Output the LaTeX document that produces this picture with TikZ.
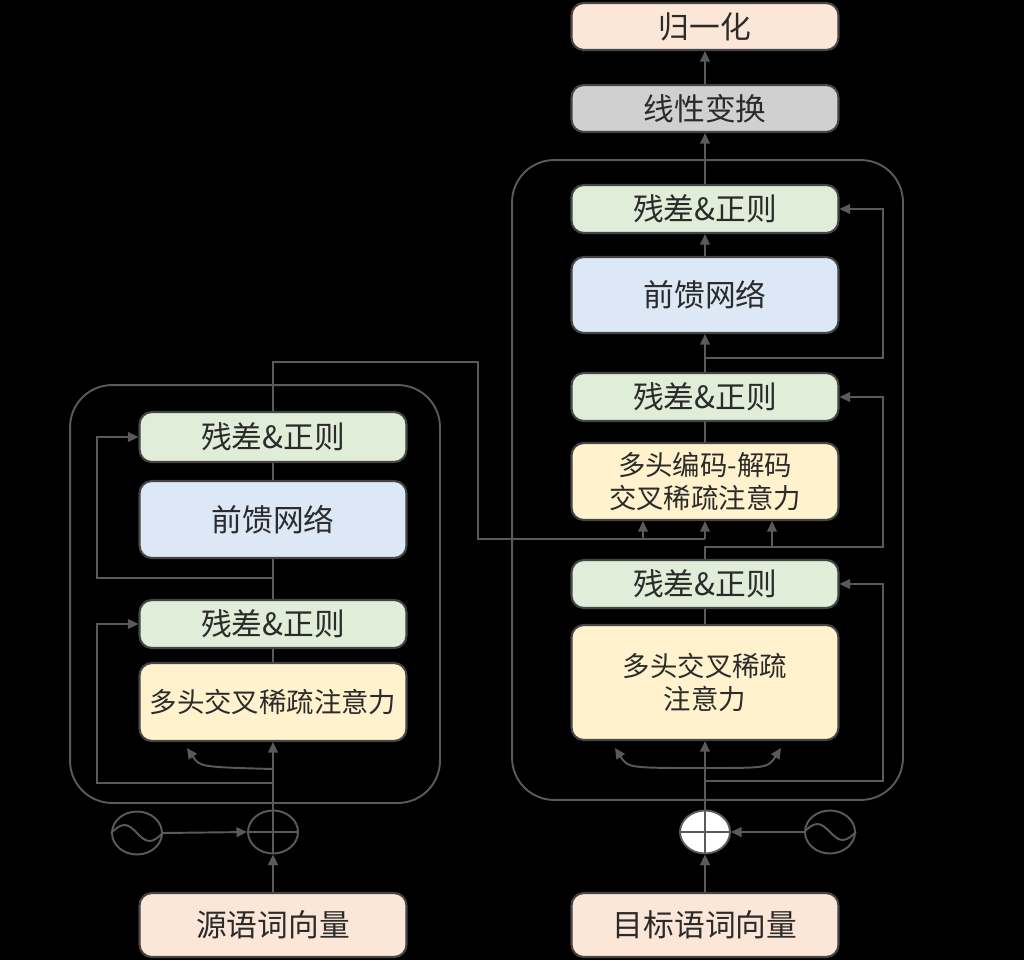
\documentclass[tikz,border=0pt]{standalone}
\usepackage{fontspec}
\setmainfont{Noto Sans CJK SC}
\usetikzlibrary{arrows.meta,calc,shapes.geometric}
\definecolor{lc}{HTML}{5A5A5A}
\definecolor{bc}{HTML}{454545}
\definecolor{tc}{HTML}{2B2B2B}
\definecolor{cg}{HTML}{E0EDD8}
\definecolor{cb}{HTML}{DCE8F6}
\definecolor{cy}{HTML}{FFF2CC}
\definecolor{cp}{HTML}{FBE6D7}
\definecolor{cgr}{HTML}{D0D0D0}
\newcommand\bigtxt{\fontsize{17.5}{21}\selectfont}
\newcommand\smalltxt{\fontsize{15.6}{18.5}\selectfont}
\tikzset{
  ln/.style={draw=lc, line width=1.1pt},
  arr/.style={ln, -{Triangle[length=6pt,width=5.5pt]}},
  blk/.style={draw=bc, line width=1.2pt, rounded corners=7pt, minimum width=5.34cm,
    text=tc, font=\bigtxt, inner sep=0pt, align=center},
  container/.style={draw=lc, line width=1.1pt, rounded corners=24pt, inner sep=0pt},
  circ/.style={ellipse, draw=lc, line width=1.1pt, minimum width=1cm, minimum height=0.86cm, inner sep=0pt}
}
\begin{document}
\begin{tikzpicture}[x=0.02cm,y=-0.02cm]
\fill[black] (0,0) rectangle (1024,960);
\useasboundingbox (0,0) rectangle (1024,960);

% containers
\node[container, minimum width=7.4cm, minimum height=8.36cm] (encbox) at (255,594) {};
\node[container, minimum width=7.82cm, minimum height=12.8cm] (decbox) at (707.5,480) {};

% encoder blocks
\node[blk, fill=cg, minimum height=1.0cm] (eA) at (273,437) {残差\&正则};
\node[blk, fill=cb, minimum height=1.54cm] (eF) at (273,519.5) {前馈网络};
\node[blk, fill=cg, minimum height=0.96cm] (eB) at (273,624) {残差\&正则};
\node[blk, fill=cy, minimum height=1.56cm, font=\smalltxt] (eM) at (273,702) {多头交叉稀疏注意力};
\node[blk, fill=cp, minimum height=1.28cm] (src) at (273,925) {源语词向量};

% decoder blocks
\node[blk, fill=cp, minimum height=0.94cm] (norm) at (705,26.5) {归一化};
\node[blk, fill=cgr, minimum height=0.94cm] (lin) at (705,108.5) {线性变换};
\node[blk, fill=cg, minimum height=0.96cm] (dA) at (705,209) {残差\&正则};
\node[blk, fill=cb, minimum height=1.52cm] (dF) at (705,295) {前馈网络};
\node[blk, fill=cg, minimum height=0.96cm] (dB) at (705,397) {残差\&正则};
\node[blk, fill=cy, minimum height=1.54cm, font=\smalltxt] (dX) at (705,481.5) {多头编码-解码\\交叉稀疏注意力};
\node[blk, fill=cg, minimum height=0.96cm] (dC) at (705,584) {残差\&正则};
\node[blk, fill=cy, minimum height=2.3cm, font=\smalltxt] (dM) at (705,682.5) {多头交叉稀疏\\注意力};
\node[blk, fill=cp, minimum height=1.28cm] (tgt) at (705,925) {目标语词向量};

% circles
\node[circ, fill=black] (esin) at (137,833) {};
\node[circ, fill=black] (eplus) at (273,832) {};
\node[circ, fill=white] (dplus) at (705,832) {};
\node[circ, fill=black] (dsin) at (830,832) {};

% encoder connectors
\draw[arr] (src.north) -- (eplus.south);
\draw[arr] (eplus.north) -- (eM.south);
\draw[arr] (esin.east) -- (eplus.west);
\coordinate (ec) at (273,769);
\draw[arr] (ec) .. controls (200,767) .. (187,748);
\coordinate (er1) at (273,783);
\draw[arr] (er1) -- (97,783) |- (eB.west);
\draw[ln] (eM.north) -- (eB.south);
\draw[ln] (eB.north) -- (eF.south);
\coordinate (er2) at (273,578);
\draw[arr] (er2) -- (97,578) |- (eA.west);
\draw[ln] (eF.north) -- (eA.south);
\coordinate (eo) at (273,362);
\coordinate (bus) at (478,539);
\draw[ln] (eA.north) -- (eo) -| (bus) -- (dX.south |- bus);
\coordinate (k1) at (643,539);
\draw[arr] (k1) -- (k1 |- dX.south);
\draw[arr] (dX.south |- bus) -- (dX.south);

% decoder connectors
\draw[arr] (tgt.north) -- (dplus.south);
\draw[arr] (dplus.north) -- (dM.south);
\draw[arr] (dsin.west) -- (dplus.east);
\coordinate (dc) at (705,768);
\draw[arr] (dc) .. controls (628,768) .. (615,748);
\draw[arr] (dc) .. controls (768,768) .. (781,748);
\coordinate (dr1) at (705,781);
\draw[arr] (dr1) -- (883,781) |- (dC.east);
\draw[ln] (dM.north) -- (dC.south);
\coordinate (dq) at (705,547);
\draw[arr] (dC.north) -- (dq) -- (883,547) |- (dB.east);
\coordinate (q1) at (772,547);
\draw[arr] (q1) -- (q1 |- dX.south);
\draw[ln] (dX.north) -- (dB.south);
\draw[arr] (dB.north) -- (dF.south);
\coordinate (dr3) at (705,358);
\draw[arr] (dr3) -- (883,358) |- (dA.east);
\draw[arr] (dF.north) -- (dA.south);
\draw[arr] (dA.north) -- (lin.south);
\draw[arr] (lin.north) -- (norm.south);

% symbols inside circles
\draw[ln] (eplus.west) -- (eplus.east);
\draw[ln] (eplus.north) -- (eplus.south);
\draw[ln] (dplus.west) -- (dplus.east);
\draw[ln] (dplus.north) -- (dplus.south);
\draw[ln] (esin.west) sin ($(esin.center)+(-12.5,-8)$) cos (esin.center) sin ($(esin.center)+(12.5,8)$) cos (esin.east);
\draw[ln] (dsin.west) sin ($(dsin.center)+(-12.5,-8)$) cos (dsin.center) sin ($(dsin.center)+(12.5,8)$) cos (dsin.east);
\end{tikzpicture}
\end{document}
